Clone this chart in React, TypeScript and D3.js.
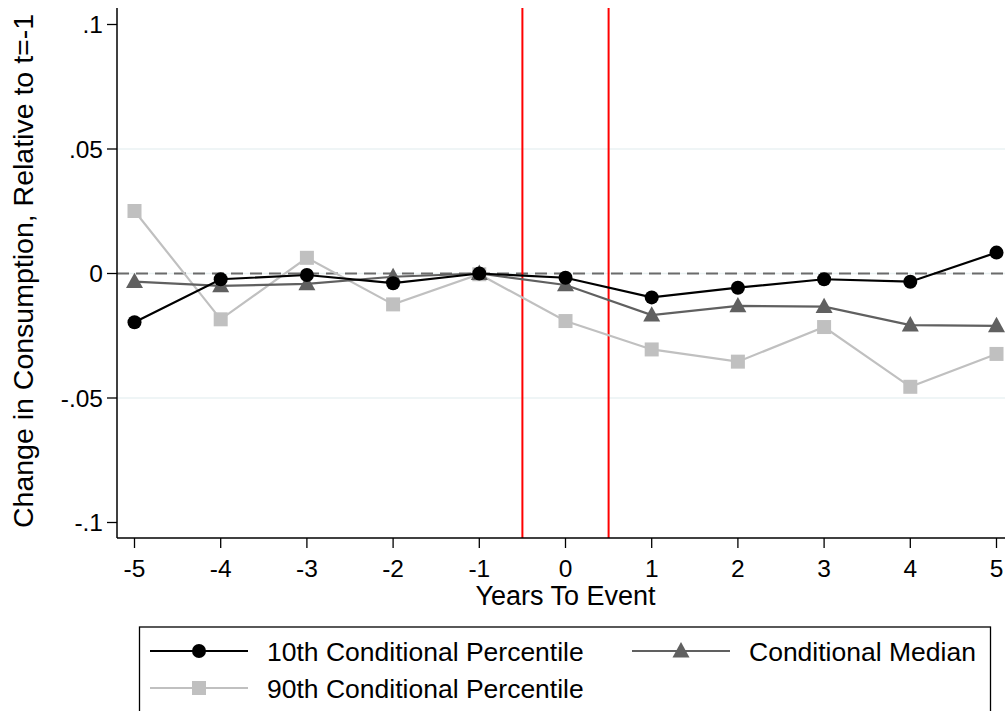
import React from "react";
import * as d3 from "d3";

const years = [-5, -4, -3, -2, -1, 0, 1, 2, 3, 4, 5];
const p10 = [-0.0196, -0.0023, -0.0006, -0.0039, 0.0, -0.0017, -0.0096, -0.0057, -0.0023, -0.0033, 0.0084];
const median = [-0.0033, -0.005, -0.0042, -0.0013, 0.0, -0.0046, -0.0167, -0.013, -0.0133, -0.0207, -0.021];
const p90 = [0.0251, -0.0184, 0.0063, -0.0124, -0.0003, -0.0191, -0.0305, -0.0354, -0.0215, -0.0455, -0.0323];
const yTicks = [0.1, 0.05, 0, -0.05, -0.1];
const yTickLabels = [".1", ".05", "0", "-.05", "-.1"];
const gridVals = [0.05, 0, -0.05];
const eventLines = [-0.5, 0.5];

const series = [
  { name: "10th Conditional Percentile", values: p10, color: "#000000", marker: "circle" },
  { name: "Conditional Median", values: median, color: "#606060", marker: "triangle" },
  { name: "90th Conditional Percentile", values: p90, color: "#c0c0c0", marker: "square" },
];

const W = 1005;
const H = 711;
const font = "'Liberation Sans', Arial, sans-serif";
const tickFs = 24.5;
const titleFs = 27;
const yTitleFs = 28.5;
const legendFs = 26.5;

const x = d3.scaleLinear().domain([-5, 5]).range([134.5, 996.5]);
const y = d3.scaleLinear().domain([0, 0.1]).range([273.5, 24.5]);
const plotLeft = 117;
const plotRight = 1005;
const plotTop = 8;
const plotBottom = 538;

function Marker({ type, cx, cy, color }: { type: string; cx: number; cy: number; color: string }) {
  if (type === "circle") return <circle cx={cx} cy={cy} r={7} fill={color} />;
  if (type === "square") return <rect x={cx - 7} y={cy - 7} width={14} height={14} fill={color} />;
  const s = 8.5;
  return (
    <path
      d={`M${cx},${cy - s * 1.05} L${cx + s},${cy + s * 0.75} L${cx - s},${cy + s * 0.75} Z`}
      fill={color}
    />
  );
}

export default function App() {
  const line = d3
    .line<number>()
    .x((_, i) => x(years[i]))
    .y((d) => y(d));

  return (
    <svg width={W} height={H} style={{ position: "absolute", left: 0, top: 0, background: "#fff" }}>
      <rect width={W} height={H} fill="#fff" />
      {gridVals.map((v) => (
        <line key={v} x1={plotLeft} x2={plotRight} y1={y(v)} y2={y(v)} stroke="#eaf2f3" strokeWidth={1.5} />
      ))}
      <line
        x1={plotLeft}
        x2={plotRight}
        y1={y(0)}
        y2={y(0)}
        stroke="#6b6b6b"
        strokeWidth={2}
        strokeDasharray="12,7"
      />
      {eventLines.map((v) => (
        <line key={v} x1={x(v)} x2={x(v)} y1={plotTop} y2={plotBottom} stroke="#ff0000" strokeWidth={2} />
      ))}
      {series
        .slice()
        .reverse()
        .map((s) => (
          <g key={s.name}>
            <path d={line(s.values) || ""} fill="none" stroke={s.color} strokeWidth={2.2} />
            {s.values.map((v, i) => (
              <Marker key={i} type={s.marker} cx={x(years[i])} cy={y(v)} color={s.color} />
            ))}
          </g>
        ))}
      {/* axes */}
      <line x1={plotLeft} x2={plotLeft} y1={plotTop} y2={plotBottom} stroke="#000" strokeWidth={1.5} />
      <line x1={plotLeft} x2={plotRight} y1={plotBottom} y2={plotBottom} stroke="#000" strokeWidth={1.5} />
      {yTicks.map((v, i) => (
        <g key={v}>
          <line x1={plotLeft - 10} x2={plotLeft} y1={y(v)} y2={y(v)} stroke="#000" strokeWidth={1.3} />
          <text
            x={plotLeft - 14}
            y={y(v) + tickFs * 0.36}
            textAnchor="end"
            fontFamily={font}
            fontSize={tickFs}
            fill="#000"
          >
            {yTickLabels[i]}
          </text>
        </g>
      ))}
      {years.map((v) => (
        <g key={v}>
          <line x1={x(v)} x2={x(v)} y1={plotBottom} y2={plotBottom + 10} stroke="#000" strokeWidth={1.3} />
          <text x={x(v)} y={577} textAnchor="middle" fontFamily={font} fontSize={tickFs} fill="#000">
            {v}
          </text>
        </g>
      ))}
      <text x={565.5} y={604.5} textAnchor="middle" fontFamily={font} fontSize={titleFs} fill="#000">
        Years To Event
      </text>
      <text
        transform={`translate(32.5, 271) rotate(-90)`}
        textAnchor="middle"
        fontFamily={font}
        fontSize={yTitleFs}
        fill="#000"
      >
        Change in Consumption, Relative to t=-1
      </text>
      {/* legend */}
      <rect x={139.5} y={627} width={851} height={100} fill="#fff" stroke="#000" strokeWidth={1.3} />
      {[
        { s: series[0], lx: 150, ly: 651 },
        { s: series[1], lx: 632, ly: 651 },
        { s: series[2], lx: 150, ly: 688 },
      ].map(({ s, lx, ly }) => (
        <g key={s.name}>
          <line x1={lx} x2={lx + 98} y1={ly} y2={ly} stroke={s.color} strokeWidth={2.2} />
          <Marker type={s.marker} cx={lx + 49} cy={ly} color={s.color} />
          <text x={lx + 117} y={ly + legendFs * 0.36} fontFamily={font} fontSize={legendFs} fill="#000">
            {s.name}
          </text>
        </g>
      ))}
    </svg>
  );
}
